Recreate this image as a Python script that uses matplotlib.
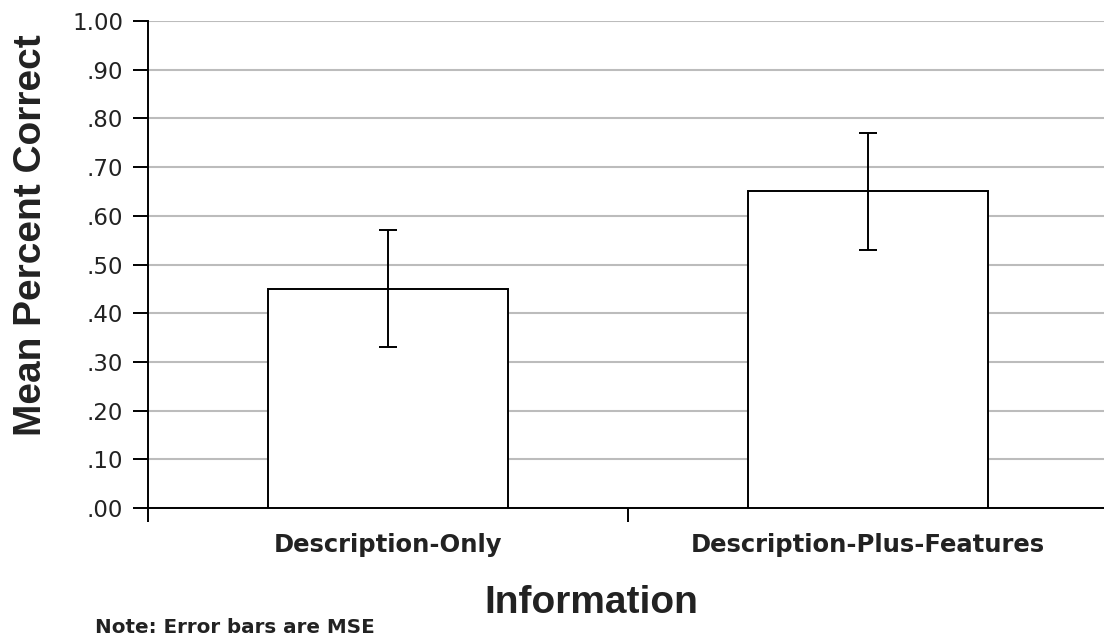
import matplotlib.pyplot as plt
from matplotlib.ticker import FixedLocator, FuncFormatter

plt.rcParams['font.family'] = ['Liberation Sans', 'DejaVu Sans']

# data
categories = ["Description-Only", "Description-Plus-Features"]
means = [0.45, 0.65]
errors = [0.12, 0.12]
y_ticks = [0.0, 0.1, 0.2, 0.3, 0.4, 0.5, 0.6, 0.7, 0.8, 0.9, 1.0]

W, H = 1104, 638
fig = plt.figure(figsize=(W / 100, H / 100), dpi=100)
ax = fig.add_axes([148 / W, 1 - 508 / H, (1108 - 148) / W, (508 - 21) / H])

x = list(range(len(categories)))
ax.bar(x, means, width=0.5, color="white", edgecolor="black", linewidth=1.4, zorder=3)
ax.errorbar(x, means, yerr=errors, fmt="none", ecolor="black", elinewidth=1.4,
            capsize=6.5, capthick=1.4, zorder=4)

ax.set_xlim(-0.5, len(categories) - 0.5)
ax.set_ylim(0, 1.0)
ax.yaxis.set_major_locator(FixedLocator(y_ticks))
ax.yaxis.set_major_formatter(FuncFormatter(lambda v, p: f"{v:.2f}" if v >= 1 else f"{v:.2f}"[1:]))
ax.yaxis.grid(True, color="#bcbcbc", linewidth=1.5, zorder=0)
ax.set_axisbelow(True)

# category labels between boundary ticks
ax.set_xticks([-0.5, 0.5, 1.5])
ax.set_xticklabels([])
ax.set_xticks(x, minor=True)
ax.set_xticklabels(categories, minor=True, fontsize=17.5, fontweight="bold",
                   color="#222222", family="DejaVu Sans")
ax.tick_params(axis="x", which="major", length=10, width=1.4, direction="out")
ax.tick_params(axis="x", which="minor", length=0, pad=18)
ax.tick_params(axis="y", length=11, width=1.4, pad=7, colors="black")
for lab in ax.get_yticklabels():
    lab.set_family("DejaVu Sans")
    lab.set_fontsize(16.5)
    lab.set_color("#222222")

for side in ["top", "right"]:
    ax.spines[side].set_visible(False)
for side in ["left", "bottom"]:
    ax.spines[side].set_linewidth(1.4)

fig.text(31 / W, 1 - 235 / H, "Mean Percent Correct", rotation=90, fontsize=28,
         fontweight="bold", color="#222222", ha="center", va="center")
fig.text(591 / W, 1 - 613 / H, "Information", fontsize=28, fontweight="bold",
         color="#222222", ha="center", va="baseline")

fig.text(95 / W, 1 - 633 / H, "Note: Error bars are MSE", fontsize=14.3,
         fontweight="bold", color="#222222", va="baseline", family="DejaVu Sans")

fig.savefig("out.png", dpi=100)
